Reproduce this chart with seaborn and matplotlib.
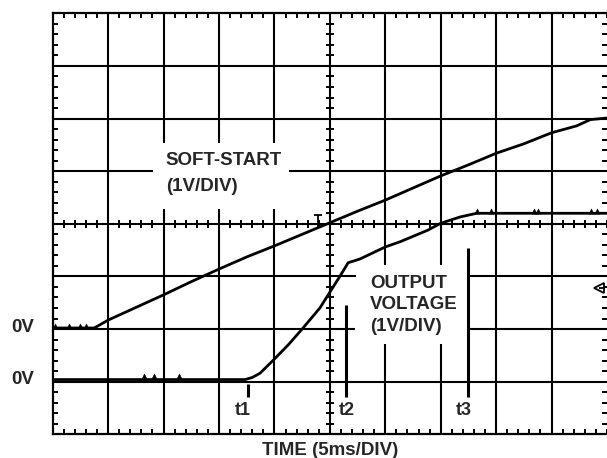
import numpy as np
import pandas as pd
import matplotlib
matplotlib.use("Agg")
import matplotlib.pyplot as plt
import seaborn as sns

# ---------------- data (units: divisions) ----------------
soft_x = [0, 0.55, 0.75, 1.0, 1.5, 2.0, 2.5, 3.0, 3.5, 4.0, 4.5, 5.0, 5.5, 6.0,
          6.5, 7.0, 7.5, 8.0, 8.5, 9.0, 9.45, 9.7, 10.0]
soft_y = [2.02, 2.02, 2.02, 2.17, 2.41, 2.65, 2.9, 3.14, 3.37, 3.58, 3.8, 4.02,
          4.24, 4.45, 4.68, 4.91, 5.12, 5.34, 5.52, 5.73, 5.86, 5.98, 6.01]

out_x = [0, 3.47, 3.6, 3.74, 4.0, 4.25, 4.5, 4.82, 5.0, 5.18, 5.33, 5.54, 6.0,
         6.27, 6.77, 7.0, 7.35, 7.65, 10.0]
out_y = [1.04, 1.04, 1.08, 1.16, 1.43, 1.7, 2.0, 2.4, 2.7, 3.0, 3.26, 3.33, 3.56,
         3.66, 3.88, 4.01, 4.13, 4.2, 4.2]

spike_x = [0.05, 0.29, 0.49, 0.6, 1.65, 1.83, 2.28, 7.66, 7.91, 8.68, 8.76, 9.71, 9.82]
spike_y = [2.06, 2.06, 2.06, 2.06, 1.1, 1.1, 1.1, 4.25, 4.25, 4.25, 4.25, 4.25, 4.25]

marker_labels = ["t1", "t2", "t3"]
marker_x = [3.52, 5.29, 7.49]
marker_top = [0.95, 2.46, 3.54]
marker_bottom = [0.70, 0.70, 0.70]
marker_label_x = [3.43, 5.30, 7.41]

ch_labels = ["0V", "0V"]
ch_levels = [2.02, 1.04]

# ---------------- style ----------------
sns.set_theme(style="white")
plt.rcParams["font.family"] = ["Liberation Sans", "DejaVu Sans"]
plt.rcParams["font.weight"] = "bold"

fig = plt.figure(figsize=(6.07, 4.58), dpi=100)
ax = fig.add_axes([52.7 / 607, 23.7 / 458, 1 - 52.7 / 607, 421.0 / 458])
ax.set_xlim(0, 10)
ax.set_ylim(0, 8)

GLW = 1.5
# vertical grid lines with gaps for labels
v_gaps = {2: (4.28, 5.53), 3: (4.28, 5.53), 4: (4.28, 5.53),
          6: (1.72, 3.22), 7: (1.72, 3.22)}
for gx in [1, 2, 3, 4, 5, 6, 7, 8, 9]:
    if gx in v_gaps:
        lo, hi = v_gaps[gx]
        ax.vlines(gx, 0, lo, color="black", lw=GLW)
        ax.vlines(gx, hi, 8, color="black", lw=GLW)
    else:
        ax.vlines(gx, 0, 8, color="black", lw=GLW)
h_gaps = {5: (1.81, 4.26), 3: (5.47, 7.47), 2: (5.45, 7.47)}
for gy in [1, 2, 3, 4, 5, 6, 7]:
    if gy in h_gaps:
        lo, hi = h_gaps[gy]
        ax.hlines(gy, 0, lo, color="black", lw=GLW)
        ax.hlines(gy, hi, 10, color="black", lw=GLW)
    else:
        ax.hlines(gy, 0, 10, color="black", lw=GLW)

# center cross minor ticks
minor = np.arange(0, 10.001, 0.2)
ax.plot(minor, np.full_like(minor, 4.0), ls="none", marker="|", ms=6, mew=1.4, color="black")
minor_y = np.arange(0, 8.001, 0.2)
ax.plot(np.full_like(minor_y, 5.0), minor_y, ls="none", marker="_", ms=6, mew=1.4, color="black")

# traces
sns.lineplot(x=soft_x, y=soft_y, ax=ax, color="black", lw=2.0, estimator=None, sort=False)
sns.lineplot(x=out_x, y=out_y, ax=ax, color="black", lw=2.0, estimator=None, sort=False)
sns.scatterplot(x=spike_x, y=spike_y, ax=ax, marker="^", s=14, color="black", edgecolor="black")

# time markers
for lab, mx, mt, mb, lx in zip(marker_labels, marker_x, marker_top, marker_bottom, marker_label_x):
    ax.vlines(mx, mb, mt, color="black", lw=2.2)
    ax.text(lx, 0.46, lab, ha="center", va="center", fontsize=13, fontweight="bold")

# trigger marker "T" and ground marker
ax.hlines(4.16, 4.72, 4.86, color="black", lw=1.3)
ax.vlines(4.79, 3.94, 4.16, color="black", lw=1.3)
ax.plot([9.86], [2.78], marker="<", ms=7, mfc="white", mec="black", mew=1.3, ls="none")
ax.hlines(2.78, 9.86, 9.97, color="black", lw=1.3)

# labels
FS = 13.5
ax.text(2.04, 5.21, "SOFT-START", ha="left", va="center", fontsize=FS, fontweight="bold")
ax.text(2.04, 4.70, "(1V/DIV)", ha="left", va="center", fontsize=FS, fontweight="bold")
ax.text(5.73, 2.87, "OUTPUT", ha="left", va="center", fontsize=FS, fontweight="bold")
ax.text(5.73, 2.47, "VOLTAGE", ha="left", va="center", fontsize=FS, fontweight="bold")
ax.text(5.73, 2.04, "(1V/DIV)", ha="left", va="center", fontsize=FS, fontweight="bold")
for lab, lev in zip(ch_labels, ch_levels):
    ax.text(-0.74, lev, lab, ha="left", va="center", fontsize=FS, fontweight="bold", clip_on=False)
ax.text(5.0, -0.30, "TIME (5ms/DIV)", ha="center", va="center", fontsize=FS,
        fontweight="bold", clip_on=False)

# frame and edge ticks
for side in ["left", "top", "bottom"]:
    ax.spines[side].set_visible(True)
    ax.spines[side].set_linewidth(1.6)
    ax.spines[side].set_color("black")
ax.spines["right"].set_visible(False)
ax.set_xticks(np.arange(0, 10.001, 0.2))
ax.set_yticks(np.arange(0, 8.001, 0.2))
ax.tick_params(axis="both", which="major", direction="in", length=3.5, width=1.4,
               color="black", top=True, bottom=True, left=True, right=True,
               labelbottom=False, labelleft=False)
ax.set_xlabel("")
ax.set_ylabel("")
ax.grid(False)

fig.savefig("out.png", dpi=100, facecolor="white")
